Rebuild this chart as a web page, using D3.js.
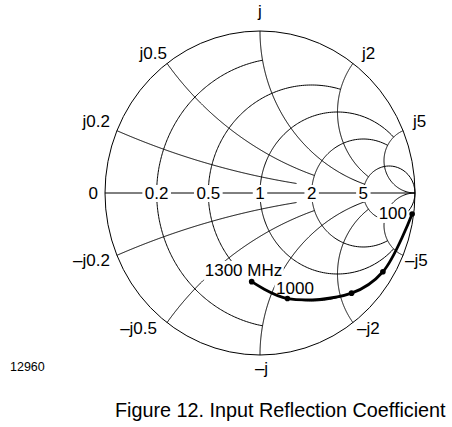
<!DOCTYPE html>
<html><head><meta charset="utf-8">
<script src="https://cdn.jsdelivr.net/npm/d3@7"></script>
<style>
body{margin:0;background:#fff}
svg{display:block}
text{font-family:"Liberation Sans",Arial,Helvetica,sans-serif;fill:#000}
</style>
</head><body>
<svg id="chart" width="452" height="427"></svg>
<script>
// ---- data ----
const resistanceValues = [0.2, 0.5, 1, 2, 5];
const resistanceLabels = ["0.2", "0.5", "1", "2", "5"];
const resistanceMaxX   = [1, 2, 5, 5, Infinity];
const reactanceValues  = [0.2, 0.5, 1, 2, 5];
const reactanceMaxR    = [1.6, 2, 5, 5, Infinity];
const reactanceLabelsPos = ["j0.2", "j0.5", "j", "j2", "j5"];
const reactanceLabelsNeg = ["–j0.2", "–j0.5", "–j", "–j2", "–j5"];
const freqMHz  = [100, 400, 700, 1000, 1300];
const s11Mag   = [0.99, 0.93, 0.855, 0.675, 0.55];
const s11Ang   = [-7.5, -31.5, -46.3, -74.8, -95.6];
const pointLabels = ["100", "", "", "1000", "1300 MHz"];
const figureNumber = "12960";
const caption = "Figure 12. Input Reflection Coefficient";

// ---- layout ----
const svg = d3.select("#chart");
const xS = d3.scaleLinear().domain([-1, 1]).range([105, 415]);
const yS = d3.scaleLinear().domain([-1, 1]).range([355, 31]);
const FS = 17;
// label placement relative to edge point: [anchor, dx, dy(baseline)]
const edgeLabelLayout = {
  "j0.2": ["end", -7, -4], "j0.5": ["end", 0, -4], "j": ["middle", 0, -14.5],
  "j2": ["start", 9, -4], "j5": ["start", 10, -4],
  "–j0.2": ["end", -7, 11], "–j0.5": ["end", -10, 11], "–j": ["middle", 1.5, 18.5],
  "–j2": ["start", 4, 11], "–j5": ["start", 2, 11]
};
const pointLabelLayout = { "100": [-19.3, 5], "1000": [7.5, -4.5], "1300 MHz": [-8.2, -5.8] };

function gamma(r, x) {
  const D = (r + 1) * (r + 1) + x * x;
  return [(r * r + x * x - 1) / D, 2 * x / D];
}
const line = d3.line().x(d => xS(d[0])).y(d => yS(d[1]));
const N = 240;

const grid = svg.append("g").attr("fill", "none").attr("stroke", "#000").attr("stroke-width", 1);

// outer circle
grid.append("ellipse")
  .attr("cx", xS(0)).attr("cy", yS(0))
  .attr("rx", xS(1) - xS(0)).attr("ry", yS(0) - yS(1));

// resistance circles
resistanceValues.forEach((r, i) => {
  const xm = resistanceMaxX[i];
  const pm = isFinite(xm) ? Math.atan(xm) : Math.PI / 2;
  const pts = d3.range(N + 1).map(k => {
    const p = -pm + 2 * pm * k / N;
    return gamma(r, Math.tan(p));
  });
  grid.append("path").attr("d", line(pts));
});

// reactance arcs (both signs)
reactanceValues.forEach((xv, i) => {
  const rm = reactanceMaxR[i];
  const tm = isFinite(rm) ? rm / (1 + rm) : 1;
  [1, -1].forEach(s => {
    const pts = d3.range(N + 1).map(k => {
      const t = tm * k / N;
      if (t >= 1) return [1, 0];
      return gamma(t / (1 - t), s * xv);
    });
    grid.append("path").attr("d", line(pts));
  });
});

// horizontal axis
grid.append("line")
  .attr("x1", xS(-1)).attr("x2", xS(1))
  .attr("y1", yS(0)).attr("y2", yS(0));

// labels with white backgrounds
function bgText(g, x, y, txt, anchor, pad) {
  const t = g.append("text").attr("x", x).attr("y", y)
    .attr("text-anchor", anchor).attr("font-size", FS).text(txt);
  const b = t.node().getBBox();
  g.insert("rect", "text")
    .attr("x", b.x - pad[0]).attr("y", b.y + 2 - pad[1])
    .attr("width", b.width + 2 * pad[0]).attr("height", b.height - 4 + 2 * pad[1])
    .attr("fill", "#fff");
  return t;
}

const axisLabels = svg.append("g");
axisLabels.append("text").attr("x", xS(-1) - 7).attr("y", yS(0) + 6)
  .attr("text-anchor", "end").attr("font-size", FS).text("0");
resistanceValues.forEach((r, i) => {
  const g = axisLabels.append("g");
  bgText(g, xS((r - 1) / (r + 1)), yS(0) + 6, resistanceLabels[i], "middle", [2.5, 1]);
});

// edge labels
const edgeG = svg.append("g");
reactanceValues.forEach((xv, i) => {
  [[1, reactanceLabelsPos[i]], [-1, reactanceLabelsNeg[i]]].forEach(([s, lab]) => {
    const e = gamma(0, s * xv);
    const L = edgeLabelLayout[lab];
    edgeG.append("text")
      .attr("x", xS(e[0]) + L[1]).attr("y", yS(e[1]) + L[2])
      .attr("text-anchor", L[0]).attr("font-size", FS).text(lab);
  });
});

// data
const pts = freqMHz.map((f, i) => {
  const a = s11Ang[i] * Math.PI / 180;
  return [s11Mag[i] * Math.cos(a), s11Mag[i] * Math.sin(a)];
});
const dataG = svg.append("g");
pointLabels.forEach((lab, i) => {
  if (!lab) return;
  const L = pointLabelLayout[lab];
  const g = dataG.append("g");
  bgText(g, xS(pts[i][0]) + L[0], yS(pts[i][1]) + L[1], lab, "middle", [1.5, 2]);
});
dataG.append("path")
  .attr("d", d3.line().x(d => xS(d[0])).y(d => yS(d[1])).curve(d3.curveCatmullRom.alpha(0.5))(pts))
  .attr("fill", "none").attr("stroke", "#000").attr("stroke-width", 2.8);
dataG.selectAll("circle").data(pts).join("circle")
  .attr("cx", d => xS(d[0])).attr("cy", d => yS(d[1])).attr("r", 2.8).attr("fill", "#000");

// figure number and caption
svg.append("text").attr("x", 10).attr("y", 371).attr("font-size", 12.5).text(figureNumber);
svg.append("text").attr("x", 115).attr("y", 417).attr("font-size", 19.8).text(caption);
</script>
</body></html>
